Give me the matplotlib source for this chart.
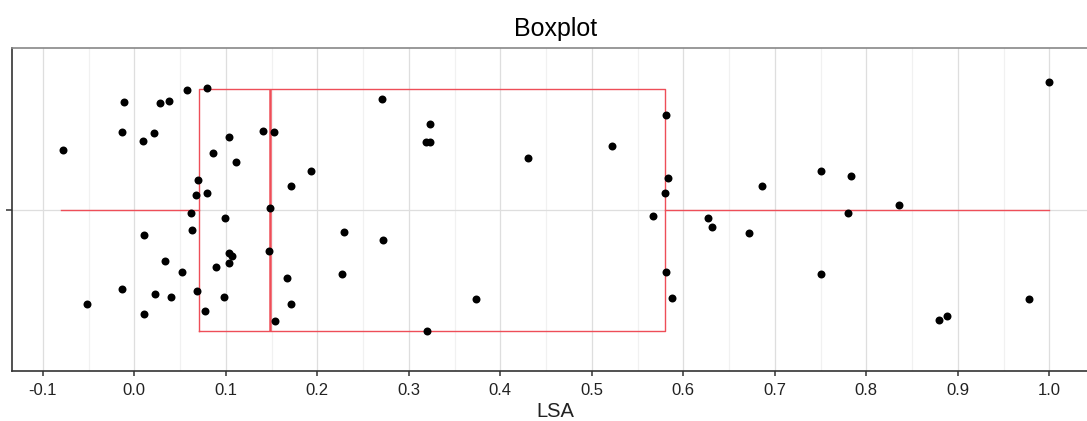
import matplotlib.pyplot as plt
import numpy as np

# LSA values (x) and their jitter offsets (y)
lsa = [-0.078, -0.011, -0.013, 0.010, 0.021, 0.028, 0.038, 0.058, 0.079, 0.141,
       0.153, 0.104, 0.086, 0.111, 0.193, 0.171, 0.070, 0.067, 0.079, 0.148,
       0.062, 0.099, 0.229, 0.011, 0.063, 0.147, 0.103, 0.107, 0.104, 0.034,
       0.052, 0.089, 0.227, 0.167, -0.013, -0.052, 0.023, 0.040, 0.068, 0.098,
       0.171, 0.011, 0.077, 0.154, 0.271, 0.323, 0.319, 0.323, 0.430, 0.522,
       0.581, 0.583, 0.580, 0.567, 0.272, 0.581, 0.588, 0.373, 0.320, 1.000,
       0.750, 0.783, 0.686, 0.836, 0.780, 0.627, 0.631, 0.672, 0.750, 0.978,
       0.879, 0.888]
jitter = [0.221, 0.401, 0.289, 0.254, 0.284, 0.396, 0.405, 0.444, 0.454, 0.294,
          0.289, 0.269, 0.211, 0.177, 0.144, 0.089, 0.109, 0.056, 0.061, 0.007,
          -0.011, -0.031, -0.084, -0.094, -0.075, -0.152, -0.162, -0.172, -0.197, -0.192,
          -0.231, -0.212, -0.240, -0.254, -0.294, -0.352, -0.313, -0.324, -0.303, -0.324,
          -0.352, -0.387, -0.377, -0.415, 0.411, 0.319, 0.251, 0.251, 0.192, 0.236,
          0.353, 0.119, 0.061, -0.022, -0.114, -0.231, -0.327, -0.332, -0.450, 0.474,
          0.144, 0.124, 0.089, 0.017, -0.012, -0.032, -0.065, -0.086, -0.240, -0.333,
          -0.410, -0.395]

# box summary as drawn in the reference
whislo, q1, med, q3, whishi = -0.0797, 0.0704, 0.148, 0.5797, 1.0

plt.rcParams['font.family'] = ['Liberation Sans', 'DejaVu Sans']

fig = plt.figure(figsize=(10.87, 4.21), dpi=100)
ax = fig.add_axes([11.7 / 1087, 50 / 421, 1087 / 1087, 322.7 / 421])

red = '#ee4e58'
stats = [dict(whislo=whislo, q1=q1, med=med, q3=q3, whishi=whishi, fliers=[])]
ax.bxp(stats, positions=[0], widths=0.9, orientation='horizontal', showcaps=False,
       boxprops=dict(color=red, linewidth=1.0),
       whiskerprops=dict(color=red, linewidth=1.0),
       medianprops=dict(color=red, linewidth=1.8),
       manage_ticks=False, zorder=2)

ax.scatter(lsa, jitter, s=33, color='black', zorder=3, linewidths=0)

ax.set_xlim(-0.134, 1.054)
ax.set_ylim(-0.6, 0.6)
ax.set_xticks(np.round(np.arange(-0.1, 1.01, 0.1), 1))
ax.set_xticks(np.arange(-0.05, 1.06, 0.1), minor=True)
ax.set_xticklabels([f'{t:.1f}' for t in np.arange(-0.1, 1.01, 0.1)])
ax.set_yticks([0])
ax.set_yticklabels([''])

ax.grid(True, which='major', color='#dedede', linewidth=0.9, zorder=0)
ax.grid(True, which='minor', axis='x', color='#f1f1f1', linewidth=0.9, zorder=0)
ax.set_axisbelow(True)

ax.spines['left'].set_color('#333333')
ax.spines['bottom'].set_color('#333333')
ax.spines['top'].set_color('#888888')
ax.spines['right'].set_visible(False)
for s in ax.spines.values():
    s.set_linewidth(1.2)

ax.tick_params(axis='x', which='major', length=3.5, width=1.1, color='#333333',
               labelsize=12, labelcolor='#222222', pad=5)
ax.tick_params(axis='x', which='minor', length=0)
ax.tick_params(axis='y', length=4.5, width=1.1, color='#333333')

ax.set_xlabel('LSA', fontsize=14.5, color='#222222', labelpad=3)
ax.set_title('Boxplot', fontsize=18, pad=9)

fig.savefig('out.png', dpi=100)
